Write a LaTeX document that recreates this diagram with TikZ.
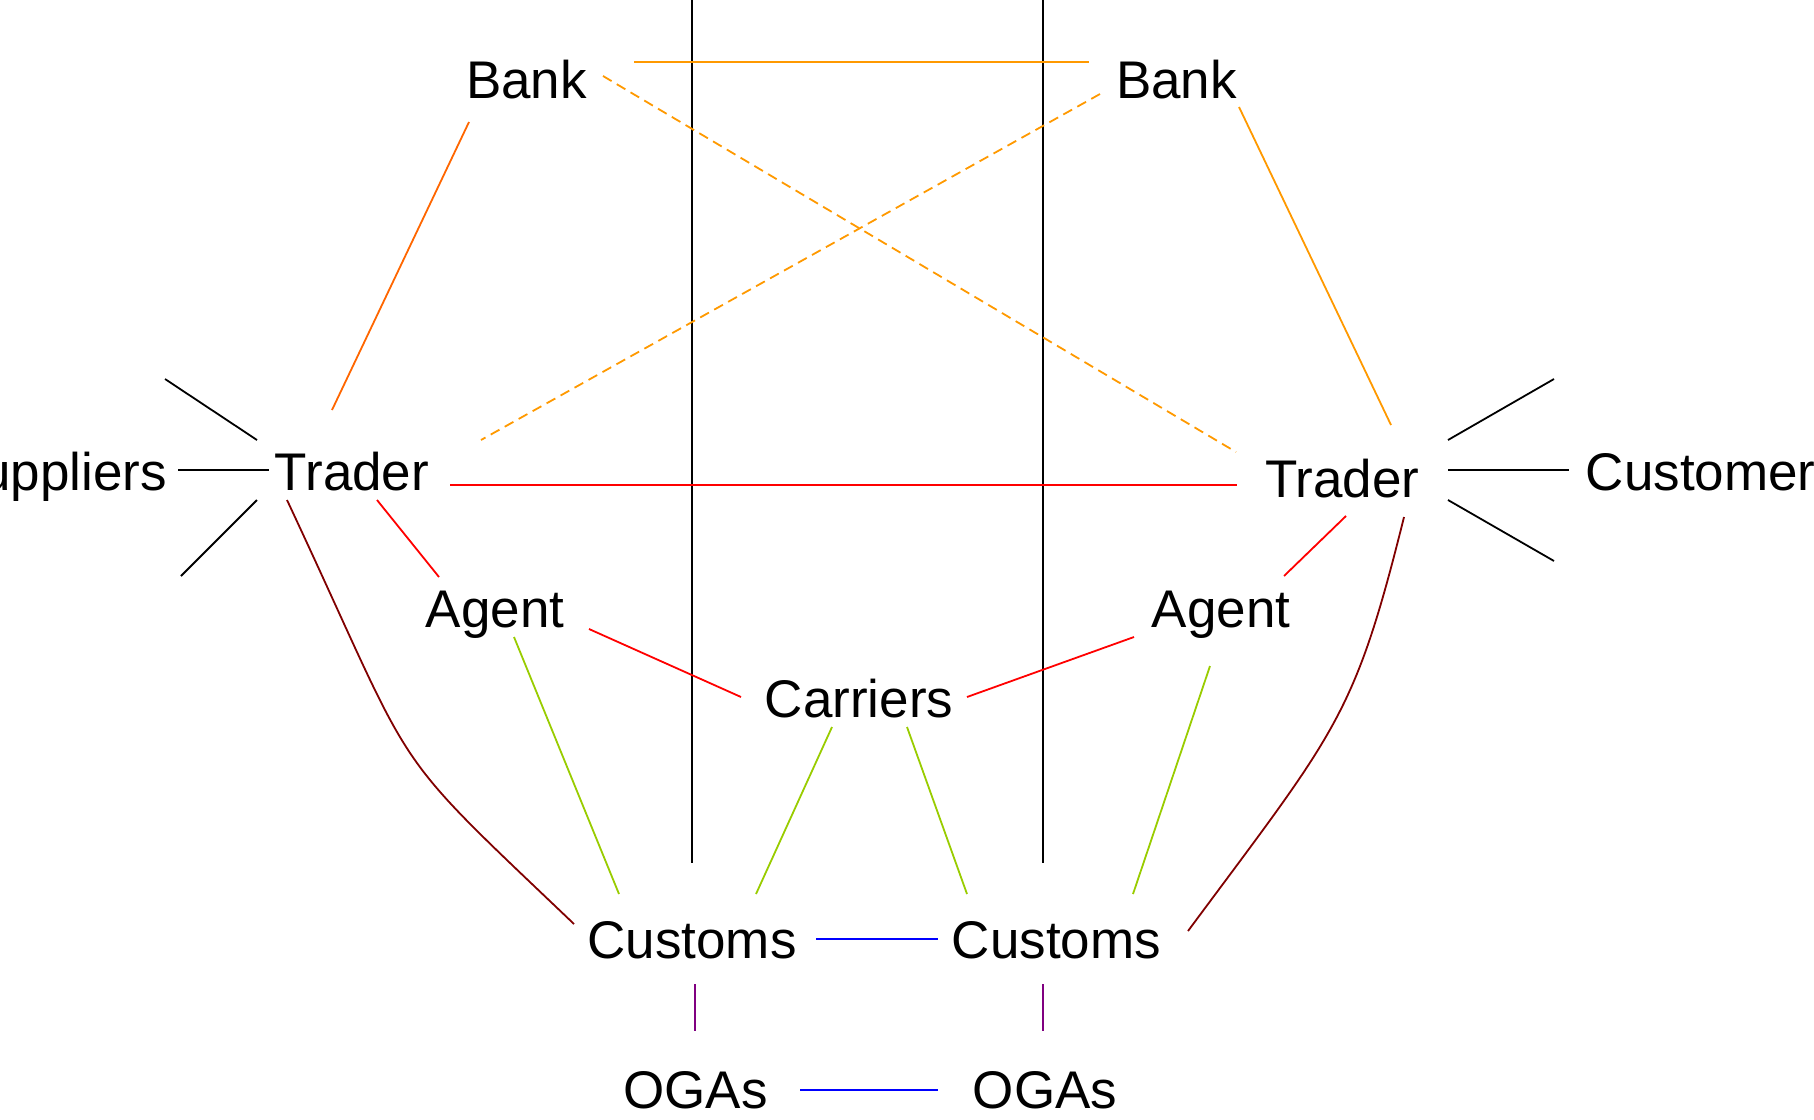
\documentclass[tikz,border=0pt]{standalone}
\usepackage{fontspec}
\setmainfont{Liberation Sans}
\usepackage{tikz}
\usetikzlibrary{positioning}

\definecolor{bankdark}{HTML}{FF6600}
\definecolor{bankorange}{HTML}{FF9900}
\definecolor{agentred}{HTML}{FF0000}
\definecolor{customsgreen}{HTML}{99CC00}
\definecolor{tradermaroon}{HTML}{800000}
\definecolor{linkblue}{HTML}{0000FF}
\definecolor{ogapurple}{HTML}{800080}

\begin{document}
\begin{tikzpicture}[x=0.5pt, y=-0.5pt, line width=0.9pt,
    main/.style = {inner sep=0pt, anchor=base, font=\fontsize{26.5}{30}\selectfont},
    bankline/.style = {draw=bankorange},
    bankdash/.style = {draw=bankorange, dash pattern=on 5pt off 3pt},
    redline/.style = {draw=agentred},
    greenline/.style = {draw=customsgreen},
    darkline/.style = {draw=tradermaroon},
    blueline/.style = {draw=linkblue},
    purpleline/.style = {draw=ogapurple}]
            \useasboundingbox (0,0) rectangle (1814,1119);
            % Separators
            \coordinate (sepLtop) at (692,0);
            \coordinate (sepLbot) at (692,863);
            \coordinate (sepRtop) at (1043,0);
            \coordinate (sepRbot) at (1043,863);
            \draw (sepLtop) -- (sepLbot);
            \draw (sepRtop) -- (sepRbot);
            % Nodes
            \node[main] (bankL) at (526.5,98) {Bank};
            \node[main] (bankR) at (1176.5,98) {Bank};
            \node[main] (trL) at (352,490) {Trader};
            \node[main] (trR) at (1342.5,497) {Trader};
            \node[main, anchor=base east] (sup) at (168,490) {Suppliers};
            \node[main, anchor=base west] (cus) at (1585,490) {Customers};
            \node[main] (agL) at (495,627) {Agent};
            \node[main] (agR) at (1221,627) {Agent};
            \node[main] (car) at (859,717) {Carriers};
            \node[main] (csL) at (692,958) {Customs};
            \node[main] (csR) at (1056.5,958) {Customs};
            \node[main] (ogL) at (695.5,1108) {OGAs};
            \node[main] (ogR) at (1045,1108) {OGAs};
            % Free ends
            \coordinate (supUp) at (165,379);
            \coordinate (supDown) at (181,576);
            \coordinate (cusUp) at (1554,379);
            \coordinate (cusDown) at (1554,561);
            % Edges
            \draw[bankline, draw=bankdark] ([shift={(-57.5,24)}]bankL.base) -- ([shift={(-20,-80)}]trL.base);
            \draw[bankline] ([shift={(62.5,9)}]bankR.base) -- ([shift={(48.5,-72)}]trR.base);
            \draw[bankline] ([shift={(107.5,-36)}]bankL.base) -- ([shift={(-87.5,-36)}]bankR.base);
            \draw[bankdash] ([shift={(76.5,-22)}]bankL.base) -- ([shift={(-106.5,-45)}]trR.base);
            \draw[bankdash] ([shift={(-76.5,-4)}]bankR.base) -- ([shift={(129,-50)}]trL.base);
            \draw[redline] ([shift={(98,-5)}]trL.base) -- ([shift={(-105.5,-12)}]trR.base);
            \draw[redline] ([shift={(25,10)}]trL.base) -- ([shift={(-56,-50)}]agL.base);
            \draw[redline] ([shift={(3.5,19)}]trR.base) -- ([shift={(63,-51)}]agR.base);
            \draw[redline] ([shift={(94,2)}]agL.base) -- ([shift={(-118,-20)}]car.base);
            \draw[redline] ([shift={(-87,10)}]agR.base) -- ([shift={(108,-20)}]car.base);
            \draw[greenline] ([shift={(19,10)}]agL.base) -- ([shift={(-73,-64)}]csL.base);
            \draw[greenline] ([shift={(-27,10)}]car.base) -- ([shift={(64,-64)}]csL.base);
            \draw[greenline] ([shift={(48,10)}]car.base) -- ([shift={(-89.5,-64)}]csR.base);
            \draw[greenline] ([shift={(-11,39)}]agR.base) -- ([shift={(76.5,-64)}]csR.base);
            \draw[darkline] ([shift={(-65,10)}]trL.base) .. controls (421,786) and (380,739) .. ([shift={(-118,-34)}]csL.base);
            \draw[darkline] ([shift={(61.5,20)}]trR.base) .. controls (1354,718) and (1337,730) .. ([shift={(131.5,-27)}]csR.base);
            \draw[blueline] ([shift={(124,-19)}]csL.base) -- ([shift={(-118.5,-19)}]csR.base);
            \draw[blueline] ([shift={(104.5,-18)}]ogL.base) -- ([shift={(-107,-18)}]ogR.base);
            \draw[purpleline] ([shift={(3,26)}]csL.base) -- ([shift={(-0.5,-77)}]ogL.base);
            \draw[purpleline] ([shift={(-13.5,26)}]csR.base) -- ([shift={(-2,-77)}]ogR.base);
            \draw ([shift={(10,-20)}]sup.base east) -- ([shift={(-83,-20)}]trL.base);
            \draw ([shift={(-95,-50)}]trL.base) -- (supUp);
            \draw ([shift={(-95,10)}]trL.base) -- (supDown);
            \draw ([shift={(105.5,-27)}]trR.base) -- ([shift={(-16,-20)}]cus.base west);
            \draw ([shift={(105.5,-57)}]trR.base) -- (cusUp);
            \draw ([shift={(105.5,3)}]trR.base) -- (cusDown);
\end{tikzpicture}
\end{document}
